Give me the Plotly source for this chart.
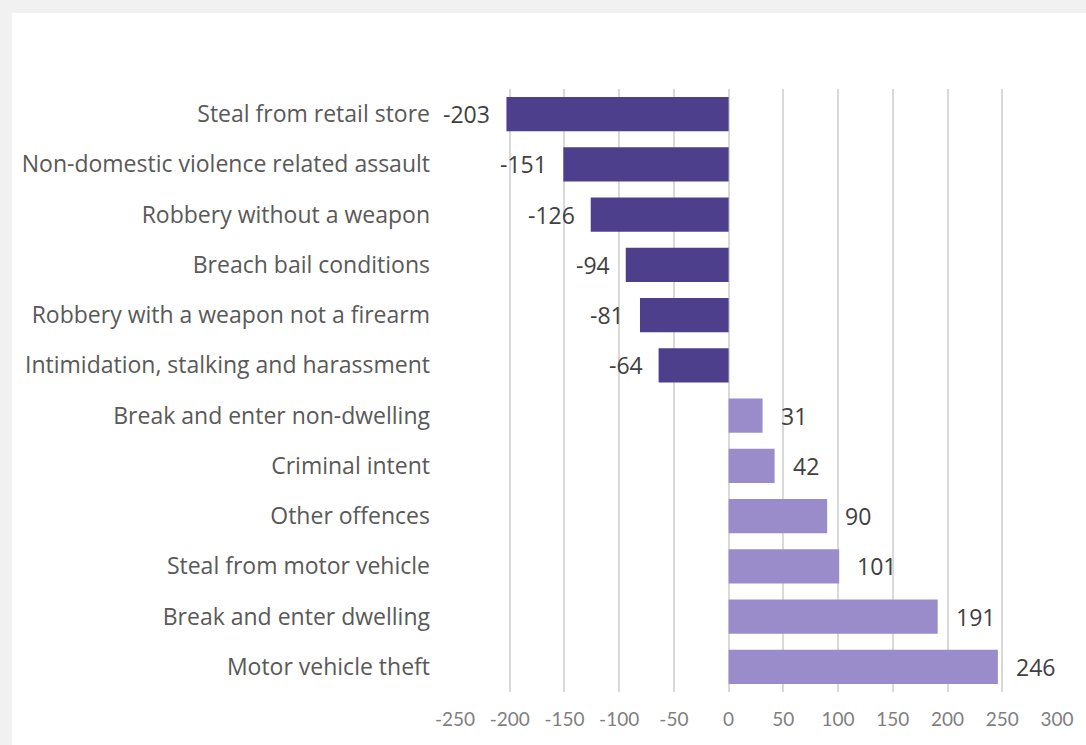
import plotly.graph_objects as go

categories = [
    "Steal from retail store",
    "Non-domestic violence related assault",
    "Robbery without a weapon",
    "Breach bail conditions",
    "Robbery with a weapon not a firearm",
    "Intimidation, stalking and harassment",
    "Break and enter non-dwelling",
    "Criminal intent",
    "Other offences",
    "Steal from motor vehicle",
    "Break and enter dwelling",
    "Motor vehicle theft",
]
values = [-203, -151, -126, -94, -81, -64, 31, 42, 90, 101, 191, 246]
tick_vals = [-250, -200, -150, -100, -50, 0, 50, 100, 150, 200, 250, 300]
tick_text = ["-250", "-200", "-150", "-100", "-50", "0", "50", "100", "150", "200", "250", "300"]

NEG = "#4e3f8d"
POS = "#9a8ccb"
colors = [NEG if v < 0 else POS for v in values]

fig = go.Figure()
fig.add_trace(go.Bar(
    x=values, y=categories, orientation="h",
    marker=dict(color=colors, line=dict(width=0)),
    hoverinfo="x+y",
))

for c, v in zip(categories, values):
    fig.add_annotation(
        x=v, y=c, xref="x", yref="y", text=str(v), showarrow=False,
        xanchor="right" if v < 0 else "left",
        xshift=-14 if v < 0 else 16,
        font=dict(family="Open Sans", size=23, color="#404040"),
    )

# white panel over grey frame
fig.add_shape(type="rect", xref="paper", yref="paper",
              x0=-0.736, x1=1.2, y0=-0.3, y1=1.126,
              fillcolor="white", line=dict(width=0), layer="below")

fig.update_layout(
    width=1086, height=745,
    margin=dict(l=455, r=29, t=89, b=53),
    paper_bgcolor="#f1f1f1",
    plot_bgcolor="white",
    bargap=0.32,
    showlegend=False,
    xaxis=dict(
        range=[-250, 300], tickvals=tick_vals, ticktext=tick_text,
        showgrid=True, gridcolor="#d9d9d9", gridwidth=2,
        zeroline=True, zerolinecolor="#d9d9d9", zerolinewidth=2,
        showline=False, ticks="",
        tickfont=dict(family="Lato", size=19, color="#7f7f7f"),
        ticklabelstandoff=14,
    ),
    yaxis=dict(
        categoryorder="array", categoryarray=categories,
        autorange="reversed",
        showgrid=False, zeroline=False, showline=False, ticks="",
        tickfont=dict(family="Open Sans", size=23, color="#595959"),
        ticklabelstandoff=24,
    ),
)

fig.write_html("out.html",
               config={"displayModeBar": False},
               post_script="document.body.style.margin='0';document.body.style.background='#f1f1f1';")
